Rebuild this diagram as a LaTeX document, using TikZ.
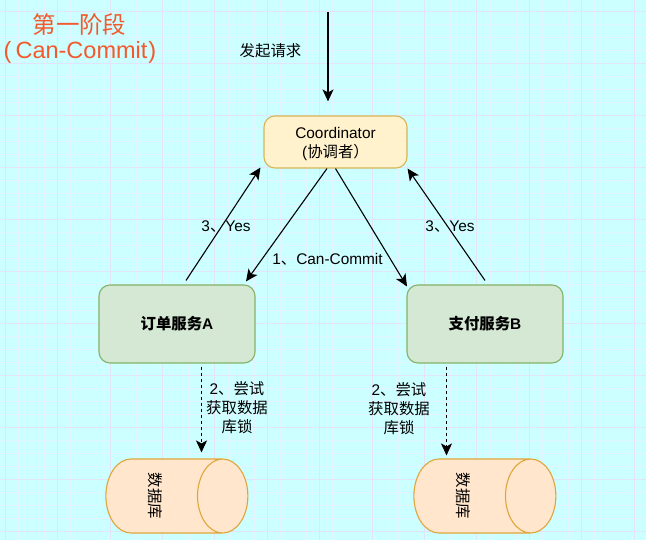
\documentclass[tikz,border=0pt]{standalone}
\usepackage{fontspec}
\setmainfont{Liberation Sans}
\newfontfamily\cjk{Noto Sans CJK SC}
\usetikzlibrary{arrows.meta,shapes.geometric}
\definecolor{bgc}{HTML}{CCFFFF}
\definecolor{gridmin}{HTML}{E2F2FF}
\definecolor{gridmaj}{HTML}{E2E4FA}
\definecolor{titlec}{HTML}{F25A2E}
\definecolor{dbline}{HTML}{E0A63C}
\definecolor{dbfill}{HTML}{FFE6CC}
\definecolor{yfill}{HTML}{FFF2CC}
\definecolor{yline}{HTML}{D6B656}
\definecolor{gfill}{HTML}{D5E8D4}
\definecolor{gline}{HTML}{82B366}
\newcommand{\dbtext}{\raisebox{-14.5pt}[0pt][0pt]{\cjk 数据库}}
\tikzset{
  x=1pt,y=-1pt,
  txt/.style={font=\fontsize{15.4}{19}\selectfont,text=black,align=center,inner sep=0pt},
  titletxt/.style={font=\fontsize{23.5}{26}\selectfont,text=titlec,inner sep=0pt},
  coordbox/.style={rounded corners=11pt,line width=1.1pt,inner sep=0pt,align=center,font=\fontsize{15.4}{19}\selectfont},
  db/.style={cylinder,shape border rotate=90,rotate=-90,shape aspect=1.09,draw=dbline,fill=dbfill,line width=1.1pt,
    minimum width=74pt,minimum height=142pt,inner sep=0pt,font=\fontsize{15.4}{15}\selectfont},
  arrow/.style={draw=black,line width=1.1pt,-{Stealth[length=12pt,width=11pt,inset=3pt]}},
  dasharrow/.style={arrow,line width=1.5pt,dash pattern=on 3pt off 3pt,-{Stealth[length=12pt,width=11pt,inset=3pt]}},
}
\begin{document}
\begin{tikzpicture}
\useasboundingbox (0,0) rectangle (646,540);
\fill[bgc] (0,0) rectangle (646,540);
\foreach \k in {-2,...,50}{
  \pgfmathsetmacro{\gx}{5.2+13.1*\k}
  \pgfmathsetmacro{\gy}{11.7+13.0*\k}
  \draw[gridmin,line width=0.8pt] (\gx,0) -- (\gx,540);
  \draw[gridmin,line width=0.8pt] (0,\gy) -- (646,\gy);
}
\foreach \k in {-1,...,13}{
  \pgfmathsetmacro{\gx}{57.6+52.4*\k}
  \pgfmathsetmacro{\gy}{11.7+52*\k}
  \draw[gridmaj,line width=1pt] (\gx,0) -- (\gx,540);
  \draw[gridmaj,line width=1pt] (0,\gy) -- (646,\gy);
}
\node[titletxt] (t1) at (79.5,25) {\cjk 第一阶段};
\node[titletxt] (t2) at (80,52) {(\hspace{4pt}Can-Commit\hspace{1pt})};
\node[txt] (req) at (270.5,51) {\cjk 发起请求};

\node[coordbox,draw=yline,fill=yfill,minimum width=143pt,minimum height=52pt] (co) at (335.5,142) {\rule{0pt}{16pt}Coordinator\\(\cjk 协调者）};
\node[coordbox,draw=gline,fill=gfill,minimum width=156pt,minimum height=78pt] (a) at (177,324) {\cjk\bfseries 订单服务\rmfamily\bfseries A};
\node[coordbox,draw=gline,fill=gfill,minimum width=156pt,minimum height=78pt] (b) at (485,324) {\cjk\bfseries 支付服务\rmfamily\bfseries B};
\node[db] (da) at (164,496) {\dbtext};
\node[db] (db) at (472,496) {\dbtext};
\coordinate (start) at (328,12);

\draw[arrow] (start) -- ([xshift=-7.5pt,yshift=14pt]co.north);
\draw[arrow] ([xshift=-8.5pt]co.south) -- ([xshift=69pt,yshift=3pt]a.north);
\draw[arrow] (co.south) -- ([xshift=-78pt,yshift=-2pt]b.north);
\draw[arrow] ([xshift=9pt,yshift=4pt]a.north) -- ([xshift=-3pt,yshift=1pt]co.south west);
\draw[arrow] ([yshift=4pt]b.north) -- (co.south east);
\draw[dasharrow] ([xshift=24.5pt,yshift=-3pt]a.south) -- ([xshift=24.5pt,yshift=6pt]a.south |- da.west);
\draw[dasharrow] ([xshift=-38.5pt,yshift=-3pt]b.south) -- ([xshift=-38.5pt,yshift=3pt]b.south |- db.west);

\node[txt] (l1) at (226,227) {3\cjk 、\rmfamily Yes};
\node[txt] (l2) at (450,227) {3\cjk 、\rmfamily Yes};
\node[txt] (l3) at (327.5,259) {1\cjk 、\rmfamily Can-Commit};
\node[txt] (l4) at (237,408) {2\cjk 、尝试\\\cjk 获取数据\\\cjk 库锁};
\node[txt] (l5) at (399,409) {2\cjk 、尝试\\\cjk 获取数据\\\cjk 库锁};
\end{tikzpicture}
\end{document}
